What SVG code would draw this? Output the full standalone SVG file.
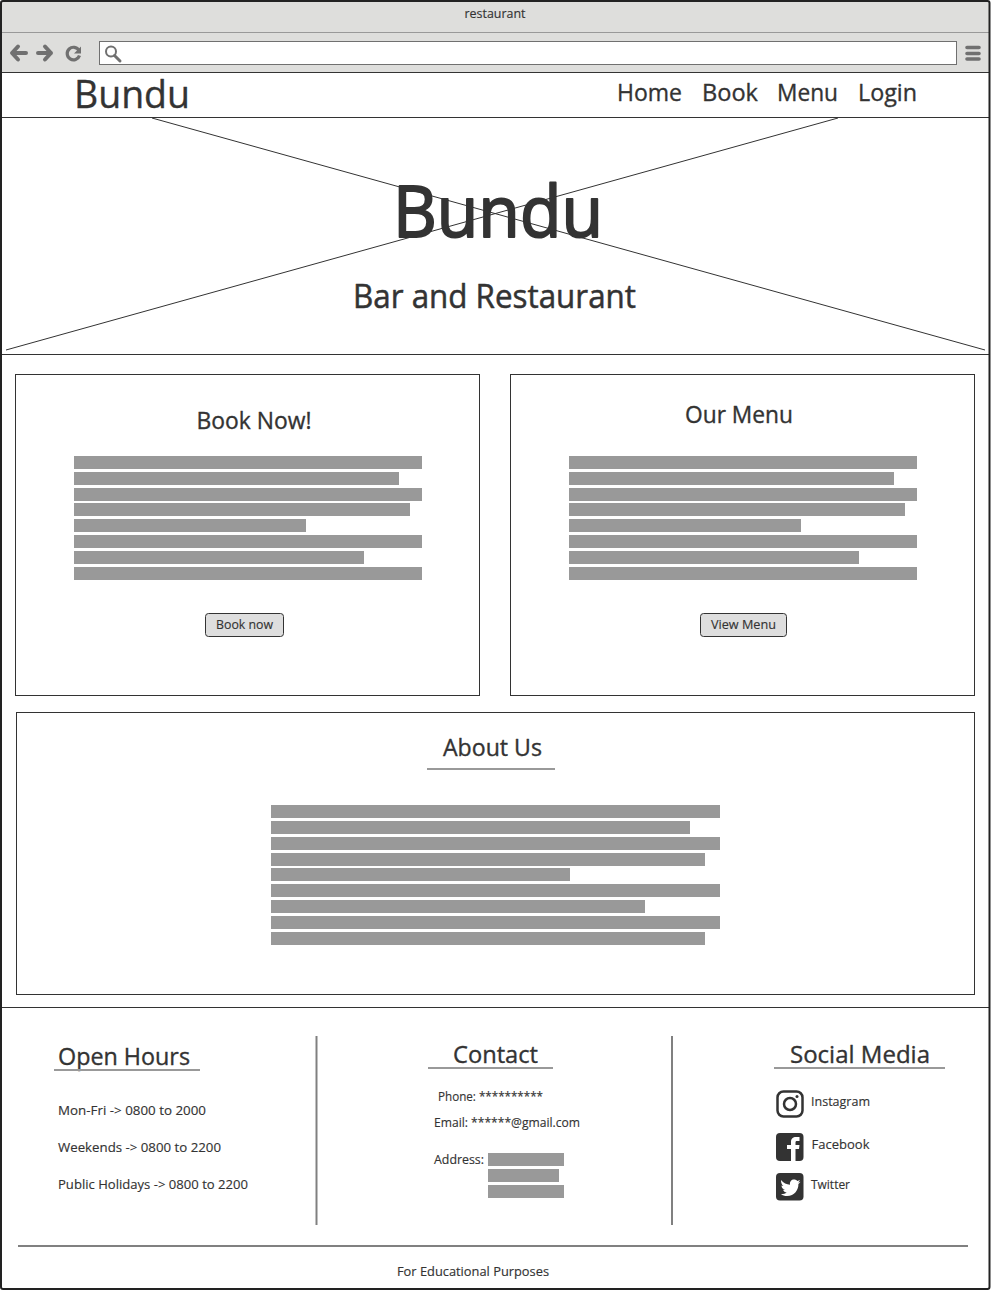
<svg xmlns="http://www.w3.org/2000/svg" width="991" height="1290" viewBox="0 0 991 1290">
<style>
text{font-family:"Open Sans","Liberation Sans",sans-serif;fill:#333;stroke:#333;stroke-width:.35;stroke-linejoin:round;}
.box{fill:#fff;stroke:#333;stroke-width:1;}
.bar{fill:#999;}
.rule{stroke:#999;stroke-width:2;fill:none;}
.vr{stroke:#808080;stroke-width:2;fill:none;}
.thin{stroke:#333;stroke-width:1;fill:none;}
.tool{fill:#707070;}
.tl{stroke:#707070;fill:none;}
.ic{fill:#333;}
.s13{font-size:13px;stroke-width:.15;}
</style>
<rect x="0" y="0" width="991" height="1290" fill="#fff"/>
<g id="browser-chrome">
<rect x="0" y="1" width="989" height="72" fill="#dededc"/>
<line x1="2" y1="32.5" x2="989" y2="32.5" stroke="#999" stroke-width="1"/>
<line x1="2" y1="72.5" x2="989" y2="72.5" stroke="#333" stroke-width="1"/>
<text x="495" y="18" text-anchor="middle" class="s13" textLength="61" lengthAdjust="spacingAndGlyphs">restaurant</text>
<path d="M26 53H13M18 46.5L12 53L18 59.5" class="tl" stroke-width="4" stroke-linecap="round" stroke-linejoin="round"/>
<path d="M38 53H51M45 46.5L51 53L45 59.5" class="tl" stroke-width="4" stroke-linecap="round" stroke-linejoin="round"/>
<path d="M79 50.5A6.3 6.3 0 1 0 79.5 55.5" class="tl" stroke-width="3.2"/>
<path d="M81 46.5V53.5H74Z" class="tool"/>
<rect x="99.500" y="41.500" width="857" height="23" fill="#fff" stroke="#707070"/>
<circle cx="111" cy="51.500" r="5" fill="none" stroke="#707070" stroke-width="2"/>
<path d="M114.500 55.500L120 61" class="tl" stroke-width="3" stroke-linecap="round"/>
<path d="M967 47.500H979M967 53.500H979M967 59H979" class="tl" stroke-width="3.600" stroke-linecap="round"/>
</g>
<g id="navbar">
<text x="74" y="108" font-size="38" textLength="116" lengthAdjust="spacingAndGlyphs">Bundu</text>
<text x="617" y="101" font-size="24" textLength="65" lengthAdjust="spacingAndGlyphs">Home</text>
<text x="702" y="101" font-size="24" textLength="56" lengthAdjust="spacingAndGlyphs">Book</text>
<text x="777" y="101" font-size="24" textLength="61" lengthAdjust="spacingAndGlyphs">Menu</text>
<text x="858" y="101" font-size="24" textLength="59" lengthAdjust="spacingAndGlyphs">Login</text>
<line x1="2" y1="117.500" x2="989" y2="117.500" stroke="#333"/>
</g>
<g id="hero">
<path d="M152 118L985 350M838 118L6 350" class="thin" stroke-width="0.900"/>
<line x1="2" y1="354.500" x2="989" y2="354.500" stroke="#333"/>
<text x="393" y="237" font-size="72" style="stroke-width:2" textLength="210" lengthAdjust="spacingAndGlyphs">Bundu</text>
<text x="353" y="308" font-size="32" style="stroke-width:.5" textLength="283" lengthAdjust="spacingAndGlyphs">Bar and Restaurant</text>
</g>
<g id="book-card">
<rect x="15.500" y="374.500" width="464" height="321" class="box"/>
<text x="196.500" y="429" font-size="23" textLength="115" lengthAdjust="spacingAndGlyphs">Book Now!</text>
<rect x="74" y="456" width="348" height="13" class="bar"/>
<rect x="74" y="472" width="325" height="13" class="bar"/>
<rect x="74" y="488" width="348" height="13" class="bar"/>
<rect x="74" y="503" width="336" height="13" class="bar"/>
<rect x="74" y="519" width="232" height="13" class="bar"/>
<rect x="74" y="535" width="348" height="13" class="bar"/>
<rect x="74" y="551" width="290" height="13" class="bar"/>
<rect x="74" y="567" width="348" height="13" class="bar"/>
<rect x="205.500" y="613.500" width="78" height="23" rx="3" fill="#dedede" stroke="#333"/>
<text x="216" y="629" class="s13" textLength="57" lengthAdjust="spacingAndGlyphs">Book now</text>
</g>
<g id="menu-card">
<rect x="510.500" y="374.500" width="464" height="321" class="box"/>
<text x="685" y="423" font-size="23" textLength="108" lengthAdjust="spacingAndGlyphs">Our Menu</text>
<rect x="569" y="456" width="348" height="13" class="bar"/>
<rect x="569" y="472" width="325" height="13" class="bar"/>
<rect x="569" y="488" width="348" height="13" class="bar"/>
<rect x="569" y="503" width="336" height="13" class="bar"/>
<rect x="569" y="519" width="232" height="13" class="bar"/>
<rect x="569" y="535" width="348" height="13" class="bar"/>
<rect x="569" y="551" width="290" height="13" class="bar"/>
<rect x="569" y="567" width="348" height="13" class="bar"/>
<rect x="700.500" y="613.500" width="86" height="23" rx="3" fill="#dedede" stroke="#333"/>
<text x="711" y="629" class="s13" textLength="65" lengthAdjust="spacingAndGlyphs">View Menu</text>
</g>
<g id="about-card">
<rect x="16.500" y="712.500" width="958" height="282" class="box"/>
<text x="443" y="756" font-size="23" textLength="99" lengthAdjust="spacingAndGlyphs">About Us</text>
<line x1="427" y1="769" x2="555" y2="769" class="rule"/>
<rect x="271" y="805" width="449" height="13" class="bar"/>
<rect x="271" y="821" width="419" height="13" class="bar"/>
<rect x="271" y="837" width="449" height="13" class="bar"/>
<rect x="271" y="853" width="434" height="13" class="bar"/>
<rect x="271" y="868" width="299" height="13" class="bar"/>
<rect x="271" y="884" width="449" height="13" class="bar"/>
<rect x="271" y="900" width="374" height="13" class="bar"/>
<rect x="271" y="916" width="449" height="13" class="bar"/>
<rect x="271" y="932" width="434" height="13" class="bar"/>
</g>
<line x1="2" y1="1007.500" x2="989" y2="1007.500" stroke="#333"/>
<g id="open-hours">
<text x="58" y="1065" font-size="24" textLength="132" lengthAdjust="spacingAndGlyphs">Open Hours</text>
<line x1="54" y1="1070" x2="200" y2="1070" class="rule"/>
<text x="58" y="1115" class="s13" textLength="148" lengthAdjust="spacingAndGlyphs">Mon-Fri -&gt; 0800 to 2000</text>
<text x="58" y="1152" class="s13" textLength="163" lengthAdjust="spacingAndGlyphs">Weekends -&gt; 0800 to 2200</text>
<text x="58" y="1189" class="s13" textLength="190" lengthAdjust="spacingAndGlyphs">Public Holidays -&gt; 0800 to 2200</text>
</g>
<g id="dividers">
<line x1="316.500" y1="1036" x2="316.500" y2="1225" class="vr"/>
<line x1="672" y1="1036" x2="672" y2="1225" class="vr"/>
<line x1="18" y1="1246" x2="968" y2="1246" class="vr"/>
</g>
<g id="contact">
<text x="453" y="1063" font-size="24" textLength="85" lengthAdjust="spacingAndGlyphs">Contact</text>
<line x1="428" y1="1068" x2="553" y2="1068" class="rule"/>
<text x="438" y="1101" class="s13" textLength="105" lengthAdjust="spacingAndGlyphs">Phone: **********</text>
<text x="434" y="1127" class="s13" textLength="146" lengthAdjust="spacingAndGlyphs">Email: ******@gmail.com</text>
<text x="434" y="1164" class="s13" textLength="50" lengthAdjust="spacingAndGlyphs">Address:</text>
<rect x="488" y="1153" width="76" height="13" class="bar"/>
<rect x="488" y="1169" width="71" height="13" class="bar"/>
<rect x="488" y="1185" width="76" height="13" class="bar"/>
</g>
<g id="social">
<text x="790" y="1063" font-size="24" textLength="140" lengthAdjust="spacingAndGlyphs">Social Media</text>
<line x1="774" y1="1068" x2="945" y2="1068" class="rule"/>
<rect x="777.500" y="1091.500" width="25" height="25" rx="6" fill="none" stroke="#333" stroke-width="2.500"/>
<circle cx="790" cy="1104" r="6" fill="none" stroke="#333" stroke-width="2.500"/>
<circle cx="797" cy="1096.500" r="1.500" class="ic"/>
<text x="811" y="1106" class="s13" textLength="59" lengthAdjust="spacingAndGlyphs">Instagram</text>
<rect x="776" y="1133" width="27.500" height="28" rx="4" class="ic"/>
<path d="M791 1161V1149H787V1145H791V1142C791 1138.500 793 1137 796 1137H799.500V1141H797C795.800 1141 795.500 1141.500 795.500 1142.500V1145H799.500L799 1149H795.500V1161Z" fill="#fff"/>
<text x="811.500" y="1149" class="s13" textLength="58" lengthAdjust="spacingAndGlyphs">Facebook</text>
<rect x="776" y="1173" width="27.500" height="27.500" rx="4" class="ic"/>
<path d="M781 1180C783.500 1183 786.500 1184.500 790 1184.700C789.500 1181.500 791.500 1179.500 794 1179.500C795.500 1179.500 796.500 1180 797.300 1181C798.300 1180.800 799.300 1180.400 800 1180C799.700 1181 799 1181.800 798.200 1182.400C799 1182.300 799.800 1182 800.500 1181.700C799.900 1182.600 799.200 1183.300 798.400 1183.900C798.600 1189.500 794.500 1196 787 1196C784.700 1196 782.600 1195.300 780.800 1194.200C783 1194.400 785 1193.800 786.700 1192.500C785 1192.400 783.600 1191.300 783 1189.700C783.600 1189.800 784.200 1189.800 784.800 1189.600C782.900 1189.200 781.500 1187.500 781.500 1185.500C782 1185.800 782.700 1186 783.400 1186C781.500 1184.700 780.900 1182 781 1180Z" fill="#fff"/>
<text x="811" y="1189" class="s13" textLength="39" lengthAdjust="spacingAndGlyphs">Twitter</text>
</g>
<g id="footer">
<text x="397" y="1276" class="s13" textLength="152" lengthAdjust="spacingAndGlyphs">For Educational Purposes</text>
</g>
<g id="frame">
<rect x="1" y="1" width="988.500" height="1288" rx="2" fill="none" stroke="#222" stroke-width="2"/>
</g>
</svg>
